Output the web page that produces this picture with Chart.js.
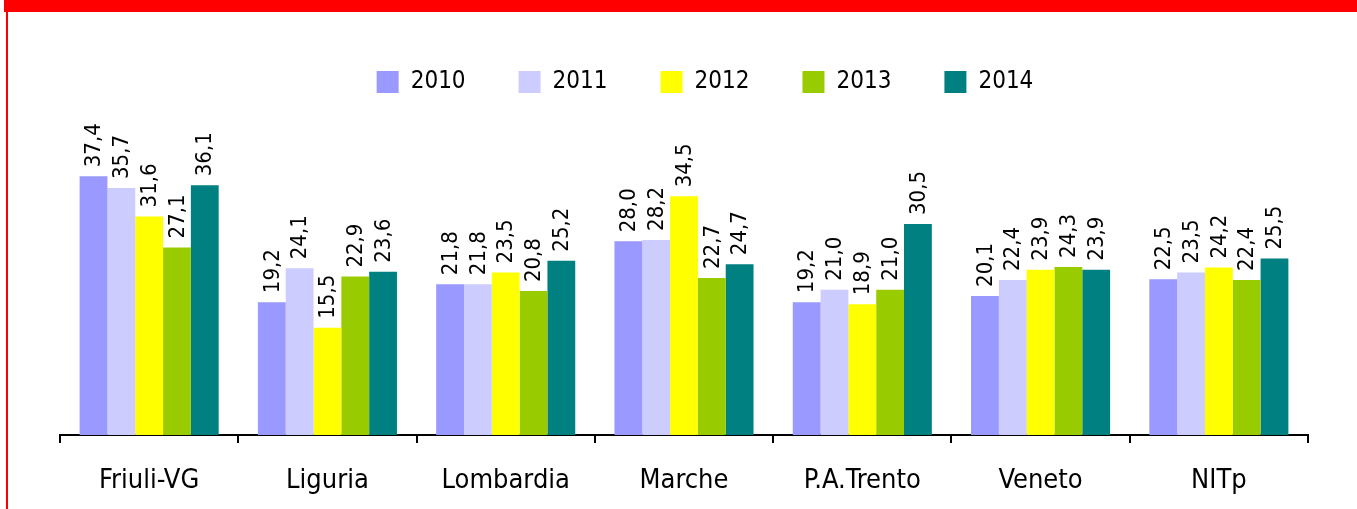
<!DOCTYPE html>
<html>
<head>
<meta charset="utf-8">
<script src="https://cdn.jsdelivr.net/npm/chart.js@4"></script>
<style>
  html, body { margin: 0; padding: 0; background: #fff; }
  #wrap { position: relative; width: 1357px; height: 509px; overflow: hidden; }
  #grafico { position: absolute; left: 0; top: 0; }
  .banda { position: absolute; left: 4px; top: 0; width: 1353px; height: 12px; background: #ff0000; }
  .linea { position: absolute; left: 6px; top: 0; width: 2px; height: 509px; background: #ff0000; }
</style>
</head>
<body>
<div id="wrap">
  <canvas id="grafico" width="1357" height="509"></canvas>
  <div class="banda"></div>
  <div class="linea"></div>
</div>
<script>
const regiones = ['Friuli-VG', 'Liguria', 'Lombardia', 'Marche', 'P.A.Trento', 'Veneto', 'NITp'];
const anios = ['2010', '2011', '2012', '2013', '2014'];
const colores = ['#9999ff', '#ccccff', '#ffff00', '#99cc00', '#008080'];

const v2010 = [37.4, 19.2, 21.8, 28.0, 19.2, 20.1, 22.5];
const v2011 = [35.7, 24.1, 21.8, 28.2, 21.0, 22.4, 23.5];
const v2012 = [31.6, 15.5, 23.5, 34.5, 18.9, 23.9, 24.2];
const v2013 = [27.1, 22.9, 20.8, 22.7, 21.0, 24.3, 22.4];
const v2014 = [36.1, 23.6, 25.2, 24.7, 30.5, 23.9, 25.5];

const series = [v2010, v2011, v2012, v2013, v2014];
const fuente = "'DejaVu Sans Condensed', 'DejaVu Sans', sans-serif";

const datasets = series.map((d, i) => ({
  label: anios[i],
  data: d,
  backgroundColor: colores[i],
  borderWidth: 0,
  barPercentage: 1,
  categoryPercentage: 0.78
}));

// etiquetas verticales encima de cada barra
const etiquetas = {
  id: 'etiquetas',
  afterDatasetsDraw(chart) {
    const ctx = chart.ctx;
    ctx.save();
    ctx.fillStyle = '#000';
    ctx.font = '22px ' + fuente;
    ctx.textAlign = 'left';
    ctx.textBaseline = 'middle';
    chart.data.datasets.forEach((ds, i) => {
      chart.getDatasetMeta(i).data.forEach((bar, j) => {
        const txt = ds.data[j].toFixed(1).replace('.', ',');
        ctx.save();
        ctx.translate(bar.x + 1, bar.y - 9);
        ctx.rotate(-Math.PI / 2);
        ctx.fillText(txt, 0, 0);
        ctx.restore();
      });
    });
    ctx.restore();
  }
};

// la leyenda del original no está centrada sobre el área del gráfico
const moverLeyenda = {
  id: 'moverLeyenda',
  afterLayout(chart) {
    chart.legend.left += 21;
    chart.legend.right += 21;
  }
};

const ctx = document.getElementById('grafico').getContext('2d');
window.miGrafico = new Chart(ctx, {
  type: 'bar',
  data: { labels: regiones, datasets: datasets },
  plugins: [etiquetas, moverLeyenda],
  options: {
    responsive: false,
    animation: false,
    layout: { padding: { top: 17, left: 60, right: 49, bottom: 0 } },
    plugins: {
      legend: {
        display: true,
        position: 'top',
        labels: {
          boxWidth: 22,
          boxHeight: 22,
          padding: 53,
          color: '#000',
          font: { family: fuente, size: 24 }
        }
      },
      tooltip: { enabled: false }
    },
    scales: {
      x: {
        grid: {
          display: true,
          drawOnChartArea: false,
          drawTicks: true,
          tickLength: 8,
          color: '#000',
          lineWidth: 2,
          offset: true
        },
        border: { display: true, color: '#000', width: 2 },
        ticks: {
          color: '#000',
          padding: 22,
          font: { family: fuente, size: 27 }
        },
        afterFit: scale => { scale.height = 74; }
      },
      y: {
        display: false,
        min: 0,
        max: 47.85
      }
    }
  }
});
</script>
</body>
</html>
